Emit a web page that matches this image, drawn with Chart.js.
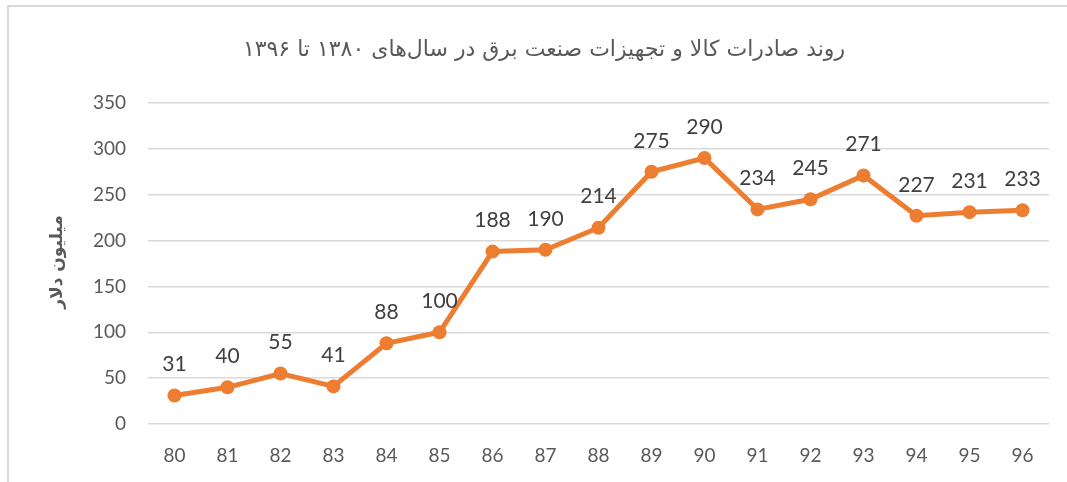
<!DOCTYPE html>
<html>
<head>
<meta charset="utf-8">
<script src="https://cdn.jsdelivr.net/npm/chart.js@4/dist/chart.umd.min.js"></script>
<style>
  html, body { margin: 0; padding: 0; background: #fff; }
  #wrap { position: relative; width: 1067px; height: 482px; }
</style>
</head>
<body>
<div id="wrap"><canvas id="c" width="1067" height="482"></canvas></div>
<script>
const years = ['80','81','82','83','84','85','86','87','88','89','90','91','92','93','94','95','96'];
const exportsValue = [31, 40, 55, 41, 88, 100, 188, 190, 214, 275, 290, 234, 245, 271, 227, 231, 233];
const yTicks = [0, 50, 100, 150, 200, 250, 300, 350];

const chartTitle = 'روند صادرات کالا و تجهیزات صنعت برق در سال‌های ۱۳۸۰ تا ۱۳۹۶';
const yTitle = 'میلیون دلار';

// frame, title, axis title, point labels
const extras = {
  id: 'extras',
  beforeDraw(chart) {
    const ctx = chart.ctx;
    ctx.save();
    ctx.strokeStyle = '#d9d9d9';
    ctx.lineWidth = 2;
    ctx.beginPath();
    ctx.moveTo(8, 490);
    ctx.lineTo(8, 6);
    ctx.lineTo(1080, 6);
    ctx.stroke();
    ctx.restore();
  },
  afterDraw(chart) {
    const ctx = chart.ctx;
    ctx.save();
    ctx.fillStyle = '#595959';
    ctx.textAlign = 'center';
    ctx.textBaseline = 'middle';
    ctx.font = '22px "DejaVu Sans"';
    ctx.direction = 'rtl';
    ctx.fillText(chartTitle, 544, 50);

    ctx.translate(58, 262);
    ctx.rotate(-Math.PI / 2);
    ctx.font = 'bold 17px "DejaVu Sans"';
    ctx.fillText(yTitle, 0, 0);
    ctx.restore();

    ctx.save();
    ctx.fillStyle = '#404040';
    ctx.font = '21px Lato';
    ctx.textAlign = 'center';
    ctx.textBaseline = 'middle';
    const meta = chart.getDatasetMeta(0);
    meta.data.forEach((pt, i) => {
      ctx.fillText(String(exportsValue[i]), pt.x, pt.y - 31);
    });
    ctx.restore();
  }
};

new Chart(document.getElementById('c'), {
  type: 'line',
  data: {
    labels: years,
    datasets: [{
      data: exportsValue,
      borderColor: '#ED7D31',
      backgroundColor: '#ED7D31',
      borderWidth: 5,
      pointRadius: 7,
      pointBorderWidth: 0,
      pointBackgroundColor: '#ED7D31',
      tension: 0
    }]
  },
  options: {
    responsive: false,
    animation: false,
    layout: { padding: { left: 0, right: 18, top: 103, bottom: 0 } },
    plugins: {
      legend: { display: false },
      tooltip: { enabled: false }
    },
    scales: {
      x: {
        offset: true,
        grid: { display: false, drawTicks: false },
        border: { display: false },
        ticks: { color: '#595959', font: { family: 'Lato', size: 19 }, padding: 20, maxRotation: 0 },
        afterFit(scale) { scale.height = 58; }
      },
      y: {
        min: 0,
        max: 350,
        afterBuildTicks(scale) { scale.ticks = yTicks.map(v => ({ value: v })); },
        grid: { color: '#d9d9d9', lineWidth: 1.5, drawTicks: false },
        border: { display: false },
        ticks: { color: '#595959', font: { family: 'Lato', size: 19 }, padding: 22 },
        afterFit(scale) { scale.width = 148; }
      }
    }
  },
  plugins: [extras]
});
</script>
</body>
</html>
